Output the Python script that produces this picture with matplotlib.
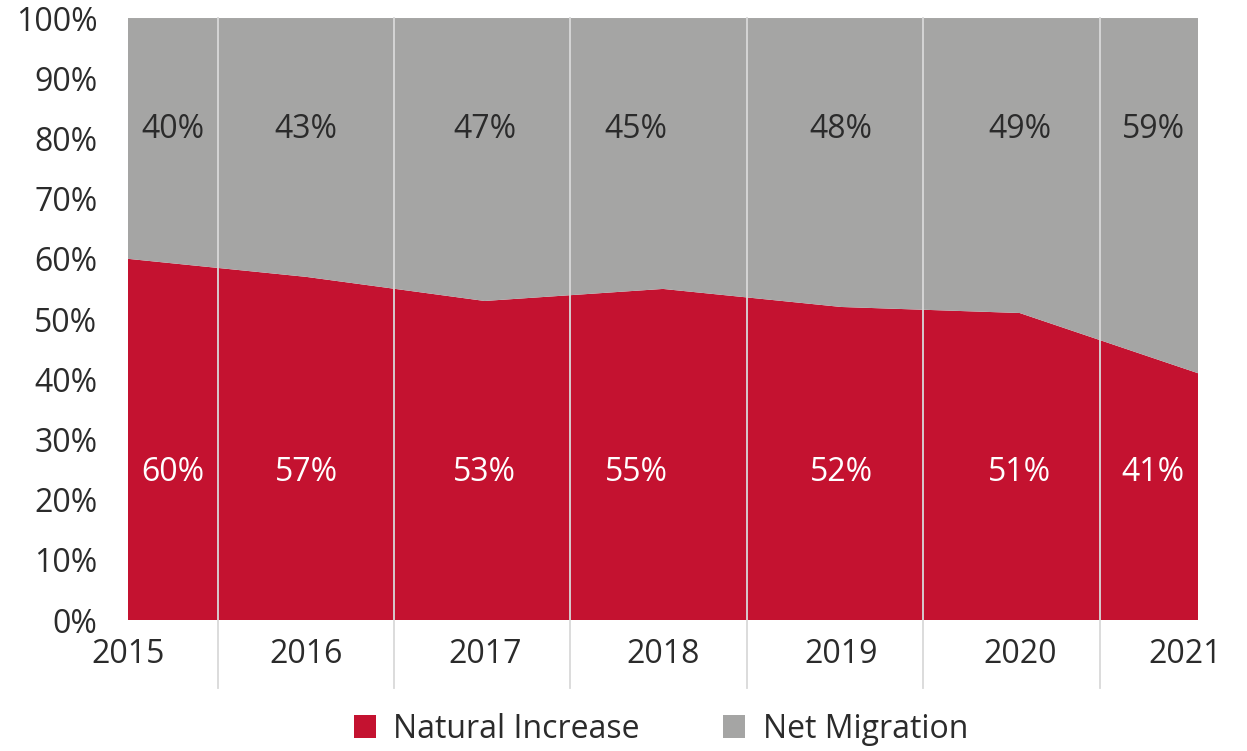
# plot.py
# stacked area chart of population growth split into natural increase and net migration

import matplotlib.pyplot as plt
import matplotlib.transforms as transforms
import numpy as np

# data (percent of total growth)
years = ["2015", "2016", "2017", "2018", "2019", "2020", "2021"]
naturalIncrease = [60, 57, 53, 55, 52, 51, 41]
netMigration = [40, 43, 47, 45, 48, 49, 59]
yTicks = [0, 10, 20, 30, 40, 50, 60, 70, 80, 90, 100]

red = "#C41230"
grey = "#A5A5A4"
textColour = "#2b2b2b"

plt.rcParams["font.family"] = ["Open Sans", "DejaVu Sans"]

fig = plt.figure(figsize=(12.47, 7.51), dpi=100)
ax = fig.add_axes([0.1026, 0.1744, 0.8581, 0.8016])

x = np.arange(len(years))

# stacked areas
ax.stackplot(x, naturalIncrease, netMigration, colors=[red, grey],
             labels=["Natural Increase", "Net Migration"], linewidth=0)

# light dividers between the years, running down past the axis
for pos in [0.505, 1.49, 2.48, 3.47, 4.46, 5.45]:
    ax.axvline(pos, ymin=-0.113, ymax=1, color="#d9d9d9", linewidth=1.3, clip_on=False)

# value labels inside the areas
labelX = [0.25, 1, 2, 2.85, 4, 5, 5.75]
for i in range(len(years)):
    ax.text(labelX[i], 81.5, str(netMigration[i]) + "%", ha="center", va="center",
            fontsize=23, color=textColour)
    ax.text(labelX[i], 24.5, str(naturalIncrease[i]) + "%", ha="center", va="center",
            fontsize=23, color="white")

# axes limits and ticks
ax.set_xlim(0, len(years) - 1)
ax.set_ylim(0, 100)
ax.set_yticks(yTicks)
ax.set_yticklabels([str(t) + "%" for t in yTicks], fontsize=23, color=textColour)
ax.set_xticks(x)
ax.set_xticklabels(years, fontsize=23, color=textColour)
ax.tick_params(axis="y", length=0, pad=22)
ax.tick_params(axis="x", length=0, pad=13)

# nudge the last year label inwards like the original
lastLabel = ax.get_xticklabels()[-1]
lastLabel.set_transform(lastLabel.get_transform() +
                        transforms.ScaledTranslation(-0.13, 0, fig.dpi_scale_trans))

for side in ["top", "right", "left", "bottom"]:
    ax.spines[side].set_visible(False)

# legend underneath
fig.legend(loc="center", bbox_to_anchor=(0.53, 0.029), ncol=2, frameon=False,
           fontsize=23, handlelength=0.7, handleheight=0.7, handletextpad=0.55,
           columnspacing=2.6, labelcolor=textColour)

fig.savefig("out.png", dpi=100)
